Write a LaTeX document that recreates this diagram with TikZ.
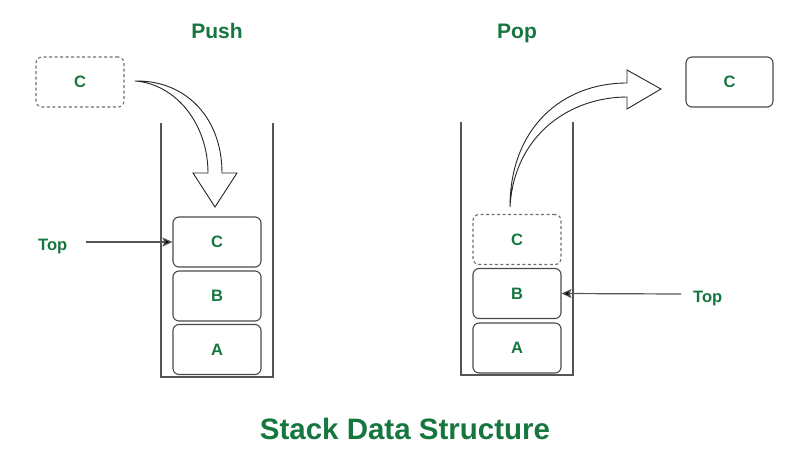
\documentclass[tikz,border=0pt]{standalone}
\usepackage{fontspec}
\setmainfont{Liberation Sans}
\usetikzlibrary{arrows.meta}
\definecolor{gfg}{HTML}{15773F}
\definecolor{edge}{HTML}{4A4A4A}
\definecolor{wall}{HTML}{555555}
\tikzset{
  x=1pt, y=-1pt,
  item/.style={draw=edge, line width=1.1pt, rounded corners=6pt, minimum width=88pt, minimum height=50pt, inner sep=0pt, text=gfg, font=\bfseries\fontsize{16.5}{16.5}\selectfont},
  ghost/.style={item, draw=edge!80, dashed, dash pattern=on 3pt off 2.5pt},
  lbl/.style={text=gfg, font=\bfseries\fontsize{16.5}{16.5}\selectfont, inner sep=0pt, anchor=base west},
  ttl/.style={text=gfg, font=\bfseries\fontsize{21}{21}\selectfont, inner sep=0pt, anchor=base},
  wallline/.style={draw=wall, line width=1.2pt},
  pointer/.style={draw=wall, line width=1.2pt, -{Stealth[length=10pt,width=9pt,inset=2pt,fill=black]}},
  flex/.style={draw=black!85, fill=white, line width=0.9pt, line join=miter},
}
\begin{document}
\begin{tikzpicture}
\useasboundingbox (0,0) rectangle (807,464);
% titles
\node[ttl] (push) at (217,38.5) {Push};
\node[ttl] (pop) at (517,38.5) {Pop};
\node[text=gfg, font=\bfseries\fontsize{29.5}{29.5}\selectfont, inner sep=0pt, anchor=base] (title) at (405,439.5) {Stack Data Structure};
% left stack container
\draw[wallline] (161,123) -- (161,377) -- (273,377) -- (273,123);
% right stack container
\draw[wallline] (461,122) -- (461,375) -- (573,375) -- (573,122);
% left items
\node[ghost] (cin) at (80,82) {C};
\node[item] (lc) at (217,242) {C};
\node[item] (lb) at (217,296) {B};
\node[item] (la) at (217,349.5) {A};
% right items
\node[ghost] (rc) at (517,239.5) {C};
\node[item] (rb) at (517,293.5) {B};
\node[item] (ra) at (517,348) {A};
\node[item, minimum width=87pt] (cout) at (729.5,82) {C};
% Top labels
\node[lbl] (topl) at (38,250) {Top};
\node[lbl] (topr) at (693,302) {Top};
\coordinate (tl) at (86,242);
\coordinate (tr) at (681,294);
\draw[pointer] (tl) -- (lc.west);
\draw[pointer] (tr) -- (rb.east);
% push flex arrow
\coordinate (ps) at (135,81);
\filldraw[flex] (ps) .. controls (186,80) and (222,118) .. (222,173)
  -- (237,173) -- (215,207) -- (193,173) -- (208,173)
  .. controls (208,124) and (176,84) .. (ps) -- cycle;
% pop flex arrow
\coordinate (pp) at (510,207);
\filldraw[flex] (pp) .. controls (510,128) and (562,83) .. (627,83)
  -- (627,70) -- (661,89) -- (627,109) -- (627,97)
  .. controls (570,97) and (514,135) .. (pp) -- cycle;
\end{tikzpicture}
\end{document}
